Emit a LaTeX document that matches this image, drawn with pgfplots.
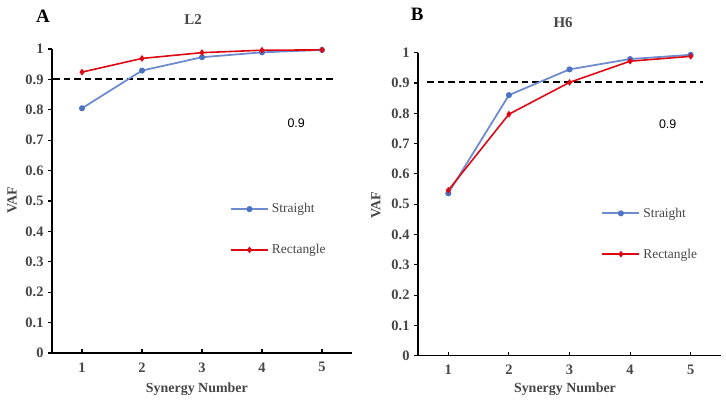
\documentclass[border=0pt]{standalone}
\usepackage{pgfplots}
\pgfplotsset{compat=1.18}
\usepackage{fontspec}
\setmainfont{Liberation Serif}
\newfontfamily\arialfont{Liberation Sans}

\definecolor{sblue}{RGB}{76,114,196}
\definecolor{sblueline}{RGB}{110,140,205}
\definecolor{rred}{RGB}{222,8,20}
\definecolor{tickgray}{RGB}{70,70,70}

% Straight vs Rectangle VAF per synergy number
\pgfplotstableread{
n   straight  rectangle
1   0.805     0.924
2   0.929     0.969
3   0.973     0.988
4   0.989     0.996
5   0.997     0.997
}\tableLtwo
\pgfplotstableread{
n   straight  rectangle
1   0.536     0.546
2   0.860     0.797
3   0.945     0.902
4   0.979     0.972
5   0.993     0.988
}\tableHsix

\newcommand{\tl}[1]{{\fontsize{14.5}{16}\selectfont\bfseries\color{tickgray}#1}}

\pgfplotsset{
  vafaxis/.style={
    scale only axis,
    xmin=0.5, xmax=5.5, ymin=0, ymax=1,
    axis x line=bottom, axis y line=left,
    axis line style={-, line width=1.3pt, black},
    xtick={1,2,3,4,5},
    ytick={0,0.1,...,1.0},
    yticklabels={\tl{0},\tl{0.1},\tl{0.2},\tl{0.3},\tl{0.4},\tl{0.5},\tl{0.6},\tl{0.7},\tl{0.8},\tl{0.9},\tl{1}},
    xticklabels={\tl{1},\tl{2},\tl{3},\tl{4},\tl{5}},
    x tick style={black, line width=1.1pt},
    y tick style={black, line width=1.1pt},
    xtick align=inside, ytick align=outside,
    major tick length=4bp,
    yticklabel style={xshift=-1bp},
    xticklabel style={yshift=-6bp},
    xlabel={Synergy Number},
    ylabel={VAF},
    label style={font=\fontsize{14}{16}\selectfont\bfseries, text=tickgray},
    legend style={draw=none, fill=none, font=\fontsize{13.5}{15}\selectfont, text=tickgray,
      row sep=26bp, inner sep=0pt, cells={anchor=west},
      nodes={inner xsep=3bp}},
    legend image code/.code={
      \draw[#1, mark indices={2}] plot coordinates {(0bp,0bp) (18.5bp,0bp) (37bp,0bp)};
    },
    clip=false,
  },
}

\begin{document}
\begin{tikzpicture}[x=1bp, y=1bp]
\path[use as bounding box] (0,0) rectangle (726,403);

% Panel A
\begin{axis}[vafaxis,
  at={(52bp,50bp)}, anchor=south west,
  width=300bp, height=304bp,
  xlabel style={at={(axis description cs:0.483,0)}, anchor=center, yshift=-36bp},
  ylabel style={at={(axis description cs:-0.133,0.503)}, anchor=center},
  legend style={at={(axis description cs:0.593,0.4985)}, anchor=north west},
]
\addplot[black, dash pattern=on 6.5bp off 4bp, line width=1.7pt, forget plot] coordinates {(0.52,0.9015) (5.18,0.9015)};
\addplot[sblueline, line width=1.8pt, mark=*, mark options={fill=sblue, draw=sblue, scale=1.05, solid}] table[x=n, y=straight] {\tableLtwo};
\addplot[rred, line width=1.6pt, mark=diamond*, mark options={fill=rred, draw=rred, scale=1.05, solid}] table[x=n, y=rectangle] {\tableLtwo};
\legend{Straight, Rectangle}
\node[font=\arialfont\fontsize{12.5}{14}\selectfont, anchor=center] at (axis cs:4.57,0.757) {0.9};
\node[font=\fontsize{15}{17}\selectfont\bfseries, text=tickgray, anchor=center] at (axis description cs:0.47,1) [yshift=29bp] {L2};
\node[font=\fontsize{19}{21}\selectfont\bfseries, anchor=center] at (axis description cs:-0.03,1) [yshift=33bp] {A};
\end{axis}

% Panel B
\begin{axis}[vafaxis,
  at={(418bp,47.3bp)}, anchor=south west,
  width=303bp, height=303bp,
  xlabel style={at={(axis description cs:0.485,0)}, anchor=center, yshift=-33bp},
  ylabel style={at={(axis description cs:-0.139,0.497)}, anchor=center},
  legend style={at={(axis description cs:0.605,0.495)}, anchor=north west},
]
\addplot[black, dash pattern=on 6.5bp off 4bp, line width=1.6pt, forget plot] coordinates {(0.65,0.903) (5.2,0.903)};
\addplot[sblueline, line width=1.8pt, mark=*, mark options={fill=sblue, draw=sblue, scale=1.05, solid}] table[x=n, y=straight] {\tableHsix};
\addplot[rred, line width=1.6pt, mark=diamond*, mark options={fill=rred, draw=rred, scale=1.05, solid}] table[x=n, y=rectangle] {\tableHsix};
\legend{Straight, Rectangle}
\node[font=\arialfont\fontsize{12.5}{14}\selectfont, anchor=center] at (axis cs:4.62,0.765) {0.9};
\node[font=\fontsize{15}{17}\selectfont\bfseries, text=tickgray, anchor=center] at (axis description cs:0.479,1) [yshift=30bp] {H6};
\node[font=\fontsize{19}{21}\selectfont\bfseries, anchor=center] at (axis description cs:-0.003,1) [yshift=38bp] {B};
\end{axis}
\end{tikzpicture}
\end{document}
